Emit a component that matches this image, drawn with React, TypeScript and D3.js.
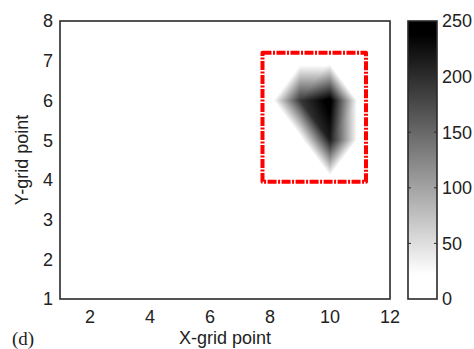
import React from "react";
import * as d3 from "d3";

// Grid coordinates and intensity values (rows by y, columns by x)
const gridX = [7, 8, 9, 10, 11, 12];
const gridY = [3, 4, 5, 6, 7, 8];
const row3 = [0, 0, 0, 0, 0, 0];
const row4 = [0, 0, 0, 0, 0, 0];
const row5 = [0, 0, 0, 215, 0, 0];
const row6 = [0, 0, 190, 250, 0, 0];
const row7 = [0, 0, 0, 0, 0, 0];
const row8 = [0, 0, 0, 0, 0, 0];
const gridZ = [row3, row4, row5, row6, row7, row8];

const xTicks = [2, 4, 6, 8, 10, 12];
const yTicks = [1, 2, 3, 4, 5, 6, 7, 8];
const cbTicks = [0, 50, 100, 150, 200, 250];
const boxX = [7.75, 11.2];
const boxY = [3.95, 7.2];

const W = 474;
const H = 349;
const P = { left: 60, right: 390, top: 21, bottom: 299 };
const CB = { left: 408, right: 437 };

function interp(px: number, py: number): number {
  // triangle interpolation; each quad is split along the diagonal that avoids its largest corner
  const i = Math.floor(px - gridX[0]);
  const j = Math.floor(py - gridY[0]);
  if (i < 0 || j < 0 || i >= gridX.length - 1 || j >= gridY.length - 1) return 0;
  const u = px - gridX[i];
  const v = py - gridY[j];
  const z00 = gridZ[j][i];
  const z10 = gridZ[j][i + 1];
  const z01 = gridZ[j + 1][i];
  const z11 = gridZ[j + 1][i + 1];
  const useMain = Math.max(z10, z01) > Math.max(z00, z11);
  if (useMain) {
    // diagonal (0,0)-(1,1)
    if (u >= v) return z00 + u * (z10 - z00) + v * (z11 - z10);
    return z00 + v * (z01 - z00) + u * (z11 - z01);
  } else {
    // diagonal (1,0)-(0,1)
    if (u + v <= 1) return z00 + u * (z10 - z00) + v * (z01 - z00);
    return z11 + (1 - u) * (z01 - z11) + (1 - v) * (z10 - z11);
  }
}

export default function App() {
  const x = d3.scaleLinear().domain([1, 12]).range([P.left, P.right]);
  const y = d3.scaleLinear().domain([1, 8]).range([P.bottom, P.top]);
  const cy = d3.scaleLinear().domain([0, 250]).range([P.bottom, P.top]);
  const toT = d3.scaleLinear().domain([22, 238]).range([0, 1]).clamp(true);
  const color = (val: number) => {
    const g = Math.round(255 * (1 - toT(val)));
    return `rgb(${g},${g},${g})`;
  };

  const cells: React.ReactElement[] = [];
  const x0 = Math.floor(x(8));
  const x1 = Math.ceil(x(11));
  const y0 = Math.floor(y(7));
  const y1 = Math.ceil(y(4));
  for (let px = x0; px < x1; px++) {
    for (let py = y0; py < y1; py++) {
      const val = interp(x.invert(px + 0.5), y.invert(py + 0.5));
      if (toT(val) <= 0) continue;
      cells.push(
        <rect key={`${px}-${py}`} x={px} y={py} width={1} height={1} fill={color(val)} />
      );
    }
  }

  const cbStops = d3.range(0, 251, 2);
  const font = "'Liberation Sans', Arial, sans-serif";
  const fs = 18;

  return (
    <svg width={W} height={H} style={{ position: "absolute", left: 0, top: 0 }}>
      <defs>
        <linearGradient id="cbgrad" x1="0" y1="1" x2="0" y2="0">
          {cbStops.map((s) => (
            <stop key={s} offset={s / 250} stopColor={color(s)} />
          ))}
        </linearGradient>
      </defs>
      <rect x={0} y={0} width={W} height={H} fill="#fff" />
      <g shapeRendering="crispEdges">{cells}</g>
      <rect
        x={x(boxX[0])}
        y={y(boxY[1])}
        width={x(boxX[1]) - x(boxX[0])}
        height={y(boxY[0]) - y(boxY[1])}
        fill="none"
        stroke="#ff0000"
        strokeWidth={4}
        strokeDasharray="9 1.5 2 1.5"
        strokeLinejoin="round"
      />
      <rect
        x={P.left}
        y={P.top}
        width={P.right - P.left}
        height={P.bottom - P.top}
        fill="none"
        stroke="#2a2a2a"
        strokeWidth={1.6}
      />
      {yTicks.map((t) => (
        <text
          key={`y${t}`}
          x={P.left - 7}
          y={y(t)}
          dy="0.36em"
          textAnchor="end"
          fontFamily={font}
          fontSize={fs}
          fill="#222"
        >
          {t}
        </text>
      ))}
      {xTicks.map((t) => (
        <text
          key={`x${t}`}
          x={x(t)}
          y={P.bottom + 24}
          textAnchor="middle"
          fontFamily={font}
          fontSize={fs}
          fill="#222"
        >
          {t}
        </text>
      ))}
      <text
        x={225}
        y={344}
        textAnchor="middle"
        fontFamily={font}
        fontSize={fs}
        fill="#222"
      >
        X-grid point
      </text>
      <text
        transform={`translate(28,${(P.top + P.bottom) / 2}) rotate(-90)`}
        textAnchor="middle"
        fontFamily={font}
        fontSize={fs}
        fill="#222"
      >
        Y-grid point
      </text>
      <text x={12} y={345} fontFamily="'Liberation Serif', 'Times New Roman', serif" fontSize={19} fill="#222">
        (d)
      </text>
      <rect
        x={CB.left}
        y={P.top}
        width={CB.right - CB.left}
        height={P.bottom - P.top}
        fill="url(#cbgrad)"
        stroke="#2a2a2a"
        strokeWidth={1.6}
      />
      {cbTicks.map((t) => (
        <g key={`c${t}`}>
          {t > 0 && t < 250 && (
            <>
              <line x1={CB.left} x2={CB.left + 3} y1={cy(t)} y2={cy(t)} stroke="#2a2a2a" />
              <line x1={CB.right - 3} x2={CB.right} y1={cy(t)} y2={cy(t)} stroke="#2a2a2a" />
            </>
          )}
          <text
            x={CB.right + 5}
            y={cy(t)}
            dy="0.36em"
            fontFamily={font}
            fontSize={fs}
            fill="#222"
          >
            {t}
          </text>
        </g>
      ))}
    </svg>
  );
}
